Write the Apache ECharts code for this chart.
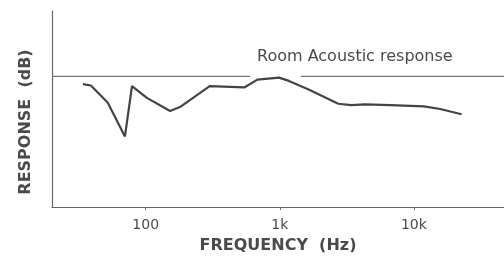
<!DOCTYPE html>
<html>
<head>
<meta charset="utf-8">
<script src="https://cdn.jsdelivr.net/npm/echarts@6/dist/echarts.min.js"></script>
<style>
  html, body { margin: 0; padding: 0; background: #fff; }
  #main { width: 504px; height: 259px; }
</style>
</head>
<body>
<div id="main"></div>
<script>
// frequency (Hz) and response (dB)
var freqs = [34, 39, 52, 70, 79, 102, 152, 180, 300, 543, 681, 986, 1170, 1640, 2730, 3420, 4290, 6700, 11900, 15700, 22700];
var response = [-1.2, -1.4, -4.0, -9.2, -1.5, -3.3, -5.3, -4.7, -1.5, -1.7, -0.5, -0.2, -0.7, -2.0, -4.2, -4.4, -4.3, -4.4, -4.6, -5.0, -5.8];
// reference (0 dB) line, broken around 1k
var refFreqs = [20, 600, 1000, 1430, 47000];
var refValues = [0, 0, '-', 0, 0];
var tickValues = [100, 1000, 10000];
var tickLabels = { 100: '100', 1000: '1k', 10000: '10k' };

var chart = echarts.init(document.getElementById('main'));
var textColor = '#4a4a4a';
var font = 'DejaVu Sans';

chart.setOption({
  backgroundColor: '#fff',
  animation: false,
  grid: { left: 52, right: 0, top: 11, bottom: 48 },
  xAxis: {
    type: 'log',
    logBase: 10,
    min: 20,
    max: 47000,
    name: 'FREQUENCY  (Hz)',
    nameLocation: 'middle',
    nameGap: 31,
    nameTextStyle: { color: textColor, fontSize: 16, fontWeight: 'bold', fontFamily: font },
    axisLine: { onZero: false, lineStyle: { color: '#666', width: 1.2 } },
    axisTick: { length: 3, customValues: tickValues, lineStyle: { color: '#666' } },
    minorTick: { show: false },
    splitLine: { show: false },
    axisLabel: {
      color: textColor,
      fontSize: 14,
      fontFamily: font,
      margin: 11,
      customValues: tickValues,
      formatter: function (v) { return tickLabels[Math.round(v)] || ''; }
    }
  },
  yAxis: {
    type: 'value',
    min: -20,
    max: 10,
    name: 'RESPONSE  (dB)',
    nameLocation: 'middle',
    nameGap: 18,
    nameTextStyle: { color: textColor, fontSize: 16, fontWeight: 'bold', fontFamily: font, padding: [0, 0, 0, -26] },
    axisLine: { show: true, lineStyle: { color: '#666', width: 1.2 } },
    axisTick: { show: false },
    axisLabel: { show: false },
    splitLine: { show: false }
  },
  graphic: [{
    type: 'text',
    x: 257,
    y: 57,
    style: { text: 'Room Acoustic response', fill: textColor, fontSize: 16, fontFamily: font, verticalAlign: 'middle' }
  }],
  series: [{
    type: 'line',
    data: refFreqs.map(function (f, i) { return [f, refValues[i]]; }),
    showSymbol: false,
    connectNulls: false,
    lineStyle: { color: '#777', width: 1.2 }
  }, {
    type: 'line',
    data: freqs.map(function (f, i) { return [f, response[i]]; }),
    showSymbol: false,
    lineStyle: { color: '#444', width: 2.2 }
  }]
});
</script>
</body>
</html>
